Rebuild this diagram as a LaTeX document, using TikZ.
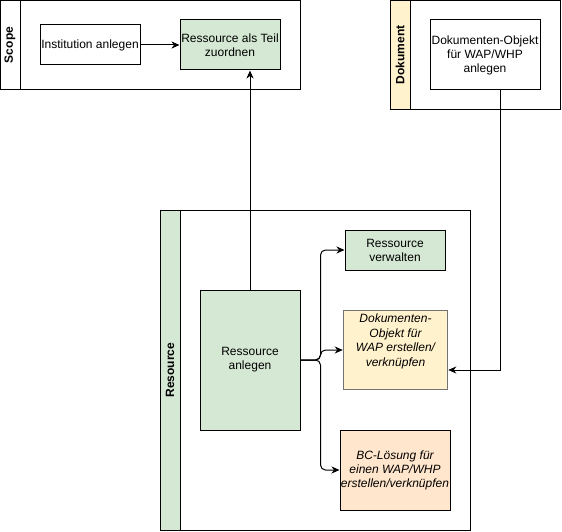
\documentclass[tikz,border=0pt]{standalone}
\usepackage{fontspec}
\setmainfont{Liberation Sans}
\usetikzlibrary{arrows.meta}
\definecolor{lanegreen}{HTML}{D5E8D4}
\definecolor{laneyellow}{HTML}{FFF2CC}
\definecolor{laneorange}{HTML}{FFE6CC}
\begin{document}
\begin{tikzpicture}[x=1pt,y=-1pt,line width=1pt,
    every node/.style={font=\fontsize{12}{14}\selectfont},
    box/.style={draw, align=center, inner sep=0pt},
    lane/.style={font=\fontsize{12}{14}\selectfont\bfseries, rotate=90},
    flow/.style={-{Stealth[length=8pt,width=7pt,inset=2.5pt]}},
    branch/.style={flow, rounded corners=5pt}]
      \useasboundingbox (0,0) rectangle (562,532);

      % Draw pools
      \draw (0.5,0.5) rectangle (300,90);
      \draw (20,0.5) -- (20,90);
      \node[lane] (scopehead) at (10,45) {Scope};

      \draw (390,0.5) rectangle (560,110);
      \filldraw[fill=laneyellow] (390,0.5) rectangle (410,110);
      \node[lane] (dokhead) at (400,55) {Dokument};

      \draw (160,210) rectangle (470,530);
      \filldraw[fill=lanegreen] (160,210) rectangle (180,530);
      \node[lane] (reshead) at (170,370) {Resource};

      % Place the boxes
      \node[box, minimum width=100pt, minimum height=40pt] (inst) at (90,45) {Institution anlegen};
      \node[box, fill=lanegreen, minimum width=100pt, minimum height=50pt] (teil) at (230,45) {Ressource als Teil\\zuordnen};
      \node[box, minimum width=110pt, minimum height=70pt] (dokobj) at (485,55) {Dokumenten-Objekt\\für WAP/WHP\\anlegen};
      \node[box, fill=lanegreen, minimum width=100pt, minimum height=140pt] (anlegen) at (250,360) {Ressource\\anlegen};
      \node[box, fill=lanegreen, minimum width=100pt, minimum height=40pt] (verwalten) at (395,250) {Ressource\\verwalten};
      \node[box, draw=black!55, line width=1.5pt, fill=laneyellow, minimum width=104pt, minimum height=79pt, font=\fontsize{12}{14.5}\selectfont\itshape] (dokwap) at (395.5,350) {Dokumenten-\\Objekt für\\WAP erstellen/\\verknüpfen\\[5pt]};
      \node[box, fill=laneorange, minimum width=110pt, minimum height=80pt, font=\fontsize{12}{14}\selectfont\itshape] (bc) at (395,470) {BC-Lösung für\\einen WAP/WHP\\erstellen/verknüpfen};

      % Connect them
      \draw[flow] (inst) -- (teil);
      \draw[flow] (anlegen.north) -- (anlegen.north |- teil.south);
      \draw[branch] (anlegen.east) -- ++(20,0) |- (verwalten.west);
      \draw[branch] (anlegen.east) -- ++(20,0) |- (dokwap.west);
      \draw[branch] (anlegen.east) -- ++(20,0) |- (bc.west);
      \draw[flow] (dokobj.south) ++(15,0) |- ([yshift=-20pt]dokwap.east);
    \end{tikzpicture}
\end{document}
